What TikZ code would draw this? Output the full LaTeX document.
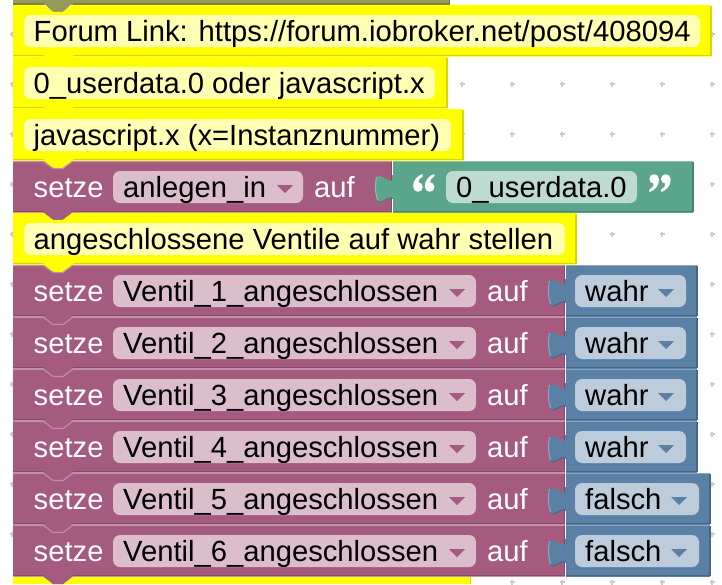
\documentclass[tikz,border=0pt]{standalone}
\usepackage{fontspec}
\setmainfont{Liberation Sans}
\definecolor{yel}{HTML}{FFFF00}\definecolor{yelL}{HTML}{FFFF00}\definecolor{yelD}{HTML}{D6D600}\definecolor{yelF}{HTML}{FFFFB3}
\definecolor{pur}{HTML}{A55B80}\definecolor{purL}{HTML}{C08CA6}\definecolor{purD}{HTML}{844966}\definecolor{purF}{HTML}{DBBDCC}
\definecolor{grn}{HTML}{5BA58C}\definecolor{grnL}{HTML}{8CC0AE}\definecolor{grnD}{HTML}{498470}\definecolor{grnF}{HTML}{BDDBD1}
\definecolor{blu}{HTML}{5B80A5}\definecolor{bluL}{HTML}{8CA6C0}\definecolor{bluD}{HTML}{496684}\definecolor{bluF}{HTML}{BDCCDB}
\definecolor{oli}{HTML}{949A5B}\definecolor{oliD}{HTML}{767B49}
\definecolor{gridc}{HTML}{CCCCCC}
\tikzset{
  x=1pt,y=-1pt,
  txt/.style={anchor=base west,inner sep=0pt,font=\fontsize{29.2}{33}\selectfont,text=black},
  wtxt/.style={txt,text=white},
  gridmark/.style={draw=gridc,line width=1.2pt},
}
\newcommand{\blk}[5]{%
  \fill[#5] (#1,#2) -- (43.5,#2) -- (53,#2+7) -- (63,#2+7) -- (72.5,#2) -- (#3,#2) -- (#3,#4+.7) -- (72.5,#4+.7) -- (63,#4+8.2) -- (53,#4+8.2) -- (43.5,#4+.7) -- (#1,#4+.7) -- cycle;
  \draw[#5L,line width=1.1pt] (#1,#2+.5) -- (43.5,#2+.5) -- (53,#2+7.5) -- (63,#2+7.5) -- (72.5,#2+.5) -- (#3-.5,#2+.5);
  \draw[#5D,line width=1.6pt] (#3-.2,#2+.5) -- (#3-.2,#4-.4) -- (72.5,#4-.4);
  \draw[#5D,line width=1.6pt] (43.5,#4-.4) -- (#1,#4-.4);
}
\newcommand{\valblk}[5]{%
  \fill[#5] (#1,#2) rectangle (#3,#4+.7);
  \draw[#5L,line width=1.1pt] (#1,#2+.5) -- (#3-.5,#2+.5);
  \draw[#5D,line width=1.6pt] (#3-.2,#2+.5) -- (#3-.2,#4-.4) -- (#1,#4-.4);
  \draw[white,line width=.9pt] (#1,#2-.5) -- (#1,#2+14) (#1,#4-13) -- (#1,#4+1);
  \fill[#5] (#1+1,#2+20) .. controls (#1-6,#2+20) and (#1-13,#2+12) .. (#1-15.5,#2+16)
     .. controls (#1-17,#2+25) and (#1-17,#2+30) .. (#1-14.5,#2+40)
     .. controls (#1-10,#2+43) and (#1-6,#2+36) .. (#1+1,#2+36) -- cycle;
  \draw[#5L,line width=1pt] (#1-15.5,#2+16) .. controls (#1-17,#2+25) and (#1-17,#2+30) .. (#1-14.5,#2+39);
  \draw[#5D,line width=1pt] (#1-14.5,#2+40.5) .. controls (#1-10,#2+43) and (#1-6,#2+36.5) .. (#1,#2+36.5);
}
\newcommand{\fld}[5]{\fill[#5,rounded corners=7pt] (#1,#2) rectangle (#3,#4);}
\newcommand{\tri}[3]{\fill[#3] (#1,#2) -- (#1+16,#2) -- (#1+8,#2+8) -- cycle;}
\newcommand{\gridplus}[2]{\draw[gridmark] (#1-2.5,#2) -- (#1+2.5,#2) (#1,#2-2.5) -- (#1,#2+2.5);}
\newcommand{\qstroke}{%
  \fill[white] (-6.3,4) circle (4.8);
  \fill[white] (-11.2,3.5) .. controls (-11.6,-3) and (-6,-8) .. (-1.6,-9) -- (-1.6,-6.6) .. controls (-4.5,-5.5) and (-6,-2.5) .. (-6,0) -- cycle;
}
\newcommand{\qpair}{\qstroke\begin{scope}[xshift=11.7pt]\qstroke\end{scope}}
\begin{document}
\begin{tikzpicture}
\useasboundingbox[fill=white] (0,0) rectangle (722,584);
\foreach \y in {34,84,134,184,234,284,334,384,434,484,534} {\gridplus{12}{\y}}
\foreach \y in {34,84,134,184,234,284,334,384,434,484,534} {\gridplus{712}{\y}}
\foreach \x in {462,512,562,612,662} {\gridplus{\x}{84}\gridplus{\x}{134}}
\foreach \x in {612,662} {\gridplus{\x}{234}}
\foreach \x in {512,562,612,662,712} {\gridplus{\x}{582}}
\fill[oli] (13,-5) rectangle (450,4.7);
\fill[oli] (43.5,3) -- (72.5,3) -- (63,12.2) -- (53,12.2) -- cycle;
\draw[oliD,line width=1.4pt] (449.5,0) -- (449.5,3.8) -- (72.5,3.8);
\draw[oliD,line width=1.4pt] (43.5,3.8) -- (13,3.8);
\blk{13}{5}{711}{56}{yel}
\fld{24}{15}{700}{47}{yelF}
\blk{13}{57}{447}{108}{yel}
\fld{24}{67}{435}{99}{yelF}
\blk{13}{109}{463}{160}{yel}
\fld{24}{119}{451}{151}{yelF}
\blk{13}{161}{392}{212}{pur}
\fld{113}{171}{303}{203}{purF}
\blk{13}{213}{576}{264}{yel}
\fld{24}{223}{565}{255}{yelF}
\foreach \yy/\xe in {265/697,317/697,369/697,421/697,473/710,525/710} {
  \pgfmathtruncatemacro{\ya}{\yy}\pgfmathtruncatemacro{\yb}{\yy+51}
  \blk{13}{\ya}{565}{\yb}{pur}
  \pgfmathtruncatemacro{\yc}{\yy+10}\pgfmathtruncatemacro{\yd}{\yy+42}
  \fld{113}{\yc}{476}{\yd}{purF}
  \valblk{565}{\ya}{\xe}{\yb}{blu}
  \pgfmathtruncatemacro{\xf}{\xe-11}
  \fld{575}{\yc}{\xf}{\yd}{bluF}
  \pgfmathsetmacro{\ytri}{\yy+24}
  \pgfmathsetmacro{\xtri}{\xe-39}
  \tri{\xtri}{\ytri}{blu}
  \tri{449}{\ytri}{pur}
}
\fill[yel] (13,577) -- (43.5,577) -- (53,584) -- (63,584) -- (72.5,577) -- (471,577) -- (471,584) -- (13,584) -- cycle;
\fill[pur] (43.5,576.5) -- (72.5,576.5) -- (63,584) -- (53,584) -- cycle;
\draw[yelD,line width=1.2pt] (470.5,577) -- (470.5,584);
\valblk{392}{161}{693}{212}{grn}
\fld{446}{171}{637}{203}{grnF}
\tri{277}{185}{pur}
\begin{scope}[shift={(424.3,183)}]\qpair\end{scope}
\begin{scope}[shift={(659.5,183)},rotate=180]\qpair\end{scope}
\node[txt] (t1) at (33.5,41) {Forum Link: https://forum.iobroker.net/post/408094};
\node[txt] (t2) at (33.5,93) {0\_userdata.0 oder javascript.x};
\node[txt] (t3) at (33.5,145) {javascript.x (x=Instanznummer)};
\node[wtxt] (s0) at (33.5,197) {setze};
\node[txt] (v0) at (123,197) {anlegen\_in};
\node[wtxt] (a0) at (314,197) {auf};
\node[txt] (g0) at (456,197) {0\_userdata.0};
\node[txt] (t5) at (33.5,249) {angeschlossene Ventile auf wahr stellen};
\foreach \n/\yb/\val in {1/301/wahr,2/353/wahr,3/405/wahr,4/457/wahr,5/509/falsch,6/561/falsch} {
  \node[wtxt] (s\n) at (33.5,\yb) {setze};
  \node[txt] (v\n) at (123,\yb) {Ventil\_\n\_angeschlossen};
  \node[wtxt] (a\n) at (487,\yb) {auf};
  \node[txt] (b\n) at (585,\yb) {\val};
}
\end{tikzpicture}
\end{document}
